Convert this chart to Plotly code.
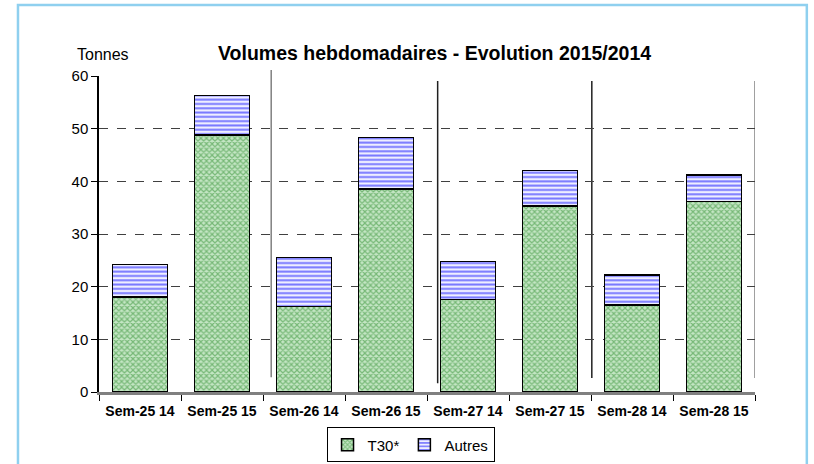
import plotly.graph_objects as go

categories = ["Sem-25 14", "Sem-25 15", "Sem-26 14", "Sem-26 15",
              "Sem-27 14", "Sem-27 15", "Sem-28 14", "Sem-28 15"]
t30_values = [18.0, 48.8, 16.2, 38.5, 17.6, 35.3, 16.5, 36.2]
total_values = [24.2, 56.3, 25.5, 48.3, 24.8, 42.1, 22.2, 41.2]
autres_values = [round(t - a, 2) for t, a in zip(total_values, t30_values)]
y_ticks = [0, 10, 20, 30, 40, 50, 60]

FONT = "Liberation Sans, Arial, sans-serif"

fig = go.Figure()
fig.add_trace(go.Bar(
    x=categories, y=t30_values, name="T30*", width=0.67,
    marker=dict(color="white",
                line=dict(color="black", width=1.5),
                pattern=dict(shape="x", fgcolor="#2a8a2a", bgcolor="#c4e6c4",
                             size=4, solidity=0.5)),
))
fig.add_trace(go.Bar(
    x=categories, y=autres_values, name="Autres", width=0.67,
    marker=dict(color="white",
                line=dict(color="black", width=1.5),
                pattern=dict(shape="-", fgcolor="#0000ff", bgcolor="#eeeeff",
                             size=4.3, solidity=0.45)),
))

# separators between week groups
seps = [(1.6, 1.019, 0.047, "#808080"), (3.63, 0.984, 0.028, "#202020"),
        (5.51, 0.984, 0.044, "#202020"), (7.5, 0.984, 0.044, "#808080")]
shapes = []
for xv, y1, y0, col in seps:
    shapes.append(dict(type="line", xref="x", yref="paper", x0=xv, x1=xv,
                       y0=y0, y1=y1, line=dict(color=col, width=1.5), layer="below"))
# outer light-blue frame
shapes.append(dict(type="rect", xref="paper", yref="paper",
                   x0=-0.1235, x1=1.079, y0=-0.30, y1=1.2247,
                   line=dict(color="#8fd0ef", width=2.5), fillcolor="rgba(0,0,0,0)"))

fig.update_layout(
    barmode="stack",
    width=814, height=464,
    margin=dict(l=99, r=59, t=76, b=72, autoexpand=False),
    paper_bgcolor="white", plot_bgcolor="white",
    font=dict(family=FONT, color="black"),
    shapes=shapes,
    showlegend=True,
    legend=dict(orientation="h", x=0.4749, xanchor="center", y=-0.112, yanchor="top",
                bordercolor="black", borderwidth=1, bgcolor="white",
                font=dict(size=15, family=FONT), itemwidth=30,
                traceorder="normal"),
    annotations=[
        dict(text="<b>Volumes hebdomadaires - Evolution 2015/2014</b>",
             xref="paper", yref="paper", x=0.511, y=1.073,
             xanchor="center", yanchor="middle", showarrow=False,
             font=dict(size=19.5, family=FONT)),
        dict(text="Tonnes", xref="paper", yref="paper", x=0.006, y=1.068,
             xanchor="center", yanchor="middle", showarrow=False,
             font=dict(size=16, family=FONT)),
    ],
)
fig.update_xaxes(
    type="category", tickson="boundaries", ticks="outside", ticklen=6,
    tickcolor="black", tickwidth=1.2, ticklabelstandoff=4,
    showline=True, linecolor="#808080", linewidth=2.5,
    tickfont=dict(size=14, family=FONT, weight="bold"),
    showgrid=False, range=[-0.5, 7.5], fixedrange=True,
)
fig.update_yaxes(
    range=[0, 60], tickvals=y_ticks, ticks="outside", ticklen=6,
    tickcolor="black", showline=True, linecolor="black", linewidth=1.5,
    showgrid=True, gridcolor="#404040", griddash="dash", gridwidth=1,
    zeroline=False, tickfont=dict(size=15, family=FONT),
)

fig.write_html(
    "out.html",
    config={"displayModeBar": False},
    post_script="document.body.style.margin='0';document.body.style.overflow='hidden';",
)
